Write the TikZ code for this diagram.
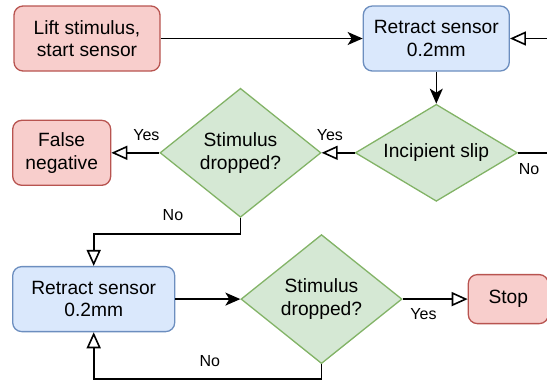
\documentclass[tikz,border=0pt]{standalone}
\usepackage{fontspec}
\setmainfont{Liberation Sans}
\usetikzlibrary{positioning, shapes.geometric, arrows.meta}
\definecolor{redfill}{HTML}{F8CECC}
\definecolor{redline}{HTML}{B85450}
\definecolor{bluefill}{HTML}{DAE8FC}
\definecolor{blueline}{HTML}{6C8EBF}
\definecolor{greenfill}{HTML}{D5E8D4}
\definecolor{greenline}{HTML}{82B366}
\tikzset{box node/.style={rectangle,rounded corners=9pt,line width=1.3pt,align=center,inner sep=0pt,minimum height=65pt,font=\fontsize{19.2}{22.5}\selectfont}}
\tikzset{end node/.style={box node,fill=redfill,draw=redline}}
\tikzset{action node/.style={box node,fill=bluefill,draw=blueline}}
\tikzset{decision node/.style={diamond,aspect=1.6,fill=greenfill,draw=greenline,line width=1.3pt,align=center,inner sep=0pt,font=\fontsize{19.2}{22.5}\selectfont}}
\tikzset{solid arrow/.style={-{Stealth[length=15pt,width=13pt,inset=4pt]},line width=1.6pt}}
\tikzset{open arrow/.style={-{Triangle[open,length=16pt,width=14pt]},line width=1.6pt}}
\tikzset{edge label/.style={font=\fontsize{16}{18}\selectfont,inner sep=2pt}}

\begin{document}
\begin{tikzpicture}
            \useasboundingbox (0,0) rectangle (547pt,-381pt);

            \node[end node, minimum width=146pt] (lift) at (87pt,-38.5pt) {Lift stimulus,\\start sensor};
            \node[action node, minimum width=146pt] (retract1) [right = 202pt of lift] {Retract sensor\\0.2mm};
            \node[decision node, minimum width=162pt, minimum height=97pt] (slip) [below = 32pt of retract1] {Incipient slip};
            \node[decision node, minimum width=161pt, minimum height=129pt] (dropped1) [left = 33pt of slip] {Stimulus\\dropped?};
            \node[end node, minimum width=98pt] (falseneg) [left = 48pt of dropped1] {False\\negative};
            \node[action node, minimum width=162pt] (retract2) [below = 80pt of falseneg.south west, anchor=north west] {Retract sensor\\0.2mm};
            \node[decision node, minimum width=161pt, minimum height=129pt] (dropped2) [right = 65pt of retract2] {Stimulus\\dropped?};
            \node[end node, minimum width=80pt, minimum height=49pt] (stop) [right = 65pt of dropped2] {Stop};

            \path[solid arrow]
            (lift) edge (retract1)
            (retract1) edge (slip)
            (retract2) edge (dropped2);

            \path[open arrow]
            (slip) edge node[edge label, near end, above, yshift=9pt] {Yes} (dropped1)
            (dropped1) edge node[edge label, pos=0.27, above, yshift=9pt] {Yes} (falseneg)
            (dropped2) edge node[edge label, pos=0.32, below, yshift=-7pt] {Yes} (stop);

            \draw[open arrow] (slip.east) -- node[edge label, pos=0, anchor=north west, xshift=-2pt, yshift=-8pt] {No} ++(45pt,0) |- (retract1.east);
            \draw[open arrow] (dropped1.south) -- ++(0,-16pt) -| node[edge label, pos=0.23, above, yshift=10pt] {No} (retract2.north);
            \draw[open arrow] (dropped2.south) -- ++(0,-15pt) -| node[edge label, pos=0.245, above, yshift=10pt] {No} (retract2.south);
        \end{tikzpicture}
\end{document}
